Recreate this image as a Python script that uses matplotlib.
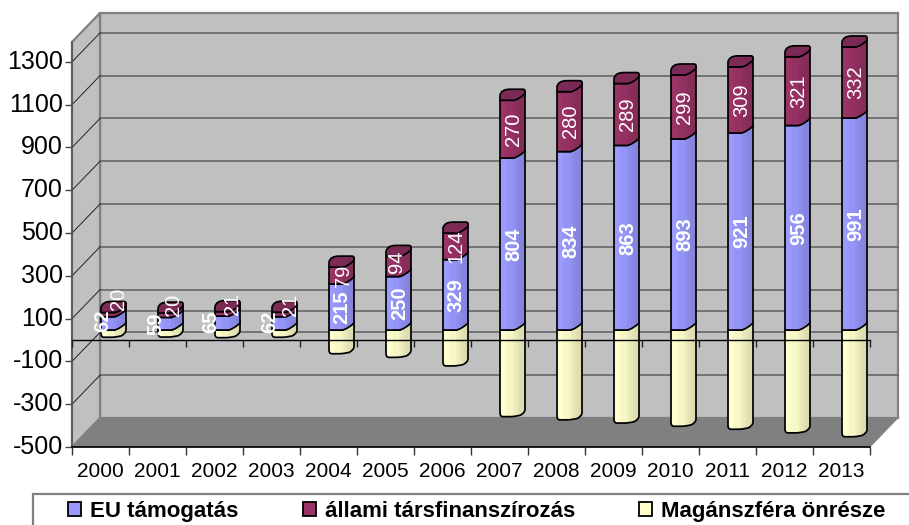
import numpy as np
import matplotlib
matplotlib.use("Agg")
import matplotlib.pyplot as plt
from matplotlib.patches import Polygon, PathPatch, Rectangle, Patch
from matplotlib.path import Path

plt.rcParams['font.family'] = ['Liberation Sans', 'DejaVu Sans']

years = ['2000','2001','2002','2003','2004','2005','2006','2007','2008','2009','2010','2011','2012','2013']
eu = [62,59,65,62,215,250,329,804,834,863,893,921,956,991]
allami = [20,20,21,21,79,94,124,270,280,289,299,309,321,332]
magan = [-31,-30,-33,-31,-108,-125,-165,-402,-417,-432,-447,-461,-478,-496]
yticks = [-500,-300,-100,100,300,500,700,900,1100,1300]
series_names = ['EU támogatás', 'állami társfinanszírozás', 'Magánszféra önrésze']

W, H = 909, 525
fig = plt.figure(figsize=(W/100, H/100), dpi=100, facecolor='white')
L, R, B, T = 72, 870, 447, 42
ax = fig.add_axes([L/W, 1-B/H, (R-L)/W, (B-T)/H])
YMIN, YMAX = -500, 1393
ax.set_xlim(0, 14)
ax.set_ylim(YMIN, YMAX)
ax.patch.set_visible(False)
px = 14/(R-L)
py = (YMAX-YMIN)/(B-T)
DX, DY = 28*px, 29*py
kw = dict(clip_on=False)

# walls
ax.add_patch(Polygon([(DX,YMIN+DY),(14+DX,YMIN+DY),(14+DX,YMAX+DY),(DX,YMAX+DY)], fc='#C0C0C0', ec='#808080', lw=1.6, zorder=1, **kw))
ax.add_patch(Polygon([(0,YMIN),(DX,YMIN+DY),(DX,YMAX+DY),(0,YMAX)], fc='#C0C0C0', ec='#808080', lw=1.6, zorder=1, **kw))
ax.add_patch(Polygon([(0,YMIN),(14,YMIN),(14+DX,YMIN+DY),(DX,YMIN+DY)], fc='#808080', ec='#808080', lw=0.5, zorder=1.2, **kw))
for v in yticks[1:]:
    ax.plot([DX,14+DX],[v+DY,v+DY], color='#666666', lw=1.2, zorder=1.5, **kw)
    ax.plot([0,DX],[v,v+DY], color='#222222', lw=0.7, zorder=1.5, **kw)
ax.plot([DX,14+DX],[0+DY,0+DY], color='#666666', lw=1.2, zorder=1.5, **kw)

# axes
for s in ['top','right']:
    ax.spines[s].set_visible(False)
ax.spines['left'].set_color('#555555'); ax.spines['left'].set_linewidth(1.2)
ax.spines['bottom'].set_color('black'); ax.spines['bottom'].set_linewidth(1.2)
ax.spines['left'].set_zorder(2); ax.spines['bottom'].set_zorder(2)
ax.set_yticks(yticks)
ax.set_yticklabels([str(v) for v in yticks], fontsize=18, va='center')
ax.tick_params(axis='y', length=5, width=1, color='#444444', pad=1.5, labelcolor='black')
ax.set_xticks(np.arange(14)+0.5)
ax.set_xticklabels(years, fontsize=15)
ax.tick_params(axis='x', which='major', length=0, pad=10.5)
ax.set_xticks(np.arange(15), minor=True)
ax.tick_params(axis='x', which='minor', length=5.5, width=1, color='#333333')

# bars
FW, SW, D = 14*px, 11*px, 11*py
DB = 7*py          # rise of the curved lower edge at the side
BASE = 10*py
OFF = 29*px
r_x, r_y = 3*px, 3*py
LW = 1.25

def silhouette(x0, yb, yt, bottom_round=False):
    x1, x2 = x0+FW, x0+FW+SW
    v = [(x0, yt), (x1, yt), (x2, yt+D*0.8)]
    c = [Path.MOVETO, Path.LINETO, Path.LINETO]
    if bottom_round:
        v += [(x2, yb+DB*0.95), (x2, yb+DB*0.45), (x2-SW*0.45, yb+DB*0.1), (x1, yb-0.2*r_y), (x1-r_x, yb-0.2*r_y)]
        c += [Path.LINETO, Path.CURVE3, Path.CURVE3, Path.CURVE3, Path.CURVE3]
        v += [(x0+r_x, yb-0.2*r_y), (x0, yb-0.2*r_y), (x0, yb+r_y)]
        c += [Path.LINETO, Path.CURVE3, Path.CURVE3]
    else:
        v += [(x2, yb+DB), (x1+SW*0.4, yb+0.1*DB), (x1-r_x*0.3, yb)]
        c += [Path.LINETO, Path.CURVE3, Path.CURVE3]
        v += [(x0, yb)]; c += [Path.LINETO]
    v += [(x0, yt)]; c += [Path.CLOSEPOLY]
    return Path(v, c)

def lid(x0, yt):
    x1, x2 = x0+FW, x0+FW+SW
    v = [(x0, yt), (x1, yt), (x1+SW*0.5, yt+D*0.1), (x2, yt+D*0.62),
         (x2, yt+D*0.85), (x2, yt+D), (x2-r_x*0.7, yt+D),
         (x0+SW*0.9, yt+D), (x0+SW*0.1, yt+D), (x0, yt+D*0.45), (x0, yt)]
    c = [Path.MOVETO, Path.LINETO, Path.CURVE3, Path.CURVE3,
         Path.LINETO, Path.CURVE3, Path.CURVE3,
         Path.LINETO, Path.CURVE3, Path.CURVE3, Path.CLOSEPOLY]
    return Path(v, c)

band = np.array([1,1,1.02,1.02,1.02,0.99,0.99,0.97,0.97,0.97,0.97,0.97,0.97,0.94,0.94,0.92,0.92,0.9,0.9,0.88,0.88,0.87,0.87,0.86,0.86])

def seg(x0, yb, yt, color, z, bottom_round=False):
    p = PathPatch(silhouette(x0, yb, yt, bottom_round), fc='none', ec='black', lw=LW, zorder=z+0.001, clip_on=False, joinstyle='round')
    rgb = np.array(matplotlib.colors.to_rgb(color))
    arr = np.clip(band[:, None]*rgb[None, :], 0, 1)[None, :, :]
    im = ax.imshow(arr, extent=(x0, x0+FW+SW, yb-r_y, yt+D), aspect='auto', zorder=z, interpolation='nearest', origin='lower')
    im.set_clip_path(PathPatch(silhouette(x0, yb, yt, bottom_round), transform=ax.transData))
    ax.add_patch(p)

C_EU, C_AL, C_MA = '#9999FF', '#993366', '#FFFFCC'
# displaced labels (px): right, down
eu_off = {0:(-12,-3),1:(-16,0),2:(-18,-1),3:(-16,-2),4:(-1,0)}
al_off = {0:(4,-16),1:(2,-10),2:(4,-10),3:(5,-10),4:(1,0),5:(-3,-5)}

for i in range(14):
    x0 = i + OFF
    z = 3 + i*0.01
    e, a, m = eu[i], allami[i], magan[i]
    seg(x0, BASE+m, BASE, C_MA, z, bottom_round=True)
    seg(x0, BASE, BASE+e, C_EU, z+0.002)
    seg(x0, BASE+e, BASE+e+a, C_AL, z+0.004)
    ax.add_patch(PathPatch(lid(x0, BASE+e+a), fc='#7A2A55', ec='black', lw=LW, zorder=z+0.006, clip_on=False, joinstyle='round'))
    ex, ey = eu_off.get(i, (0, 0)); lx, ly = al_off.get(i, (0, 0))
    ax.text(x0+13.5*px+ex*px, BASE+e/2-ey*py, str(e), rotation=90, ha='center', va='center', color='white',
            fontsize=14.5, fontweight='bold', zorder=6)
    ax.text(x0+13.5*px+lx*px, BASE+e+a/2-ly*py, str(a), rotation=90, ha='center', va='center', color='white',
            fontsize=14.5, zorder=6)

ax.plot([0,14],[0,0], color='black', lw=1.0, zorder=5, **kw)
ax.vlines(np.arange(15), -7*py, 0, color='#222222', lw=1.0, zorder=5, clip_on=False)
ax.set_xlim(0, 14)
ax.set_ylim(YMIN, YMAX)

# legend frame and legend
fig.add_artist(Rectangle((33/W, -0.02), 1.0, (1-494/H)+0.02, transform=fig.transFigure, fc='white', ec='#808080', lw=1.6, clip_on=False))
handles = [Patch(fc=c, ec='black', lw=1.3) for c in (C_EU, C_AL, C_MA)]
leg = fig.legend(handles, series_names, ncol=3, loc='upper left', bbox_to_anchor=(66/W, 1-499/H),
                 frameon=False, prop=dict(family='Liberation Sans', weight='bold', size=16),
                 handlelength=0.58, handleheight=0.58, handletextpad=0.4, columnspacing=2.9,
                 borderaxespad=0, borderpad=0.1)
fig.savefig('out.png', dpi=100, facecolor='white')
